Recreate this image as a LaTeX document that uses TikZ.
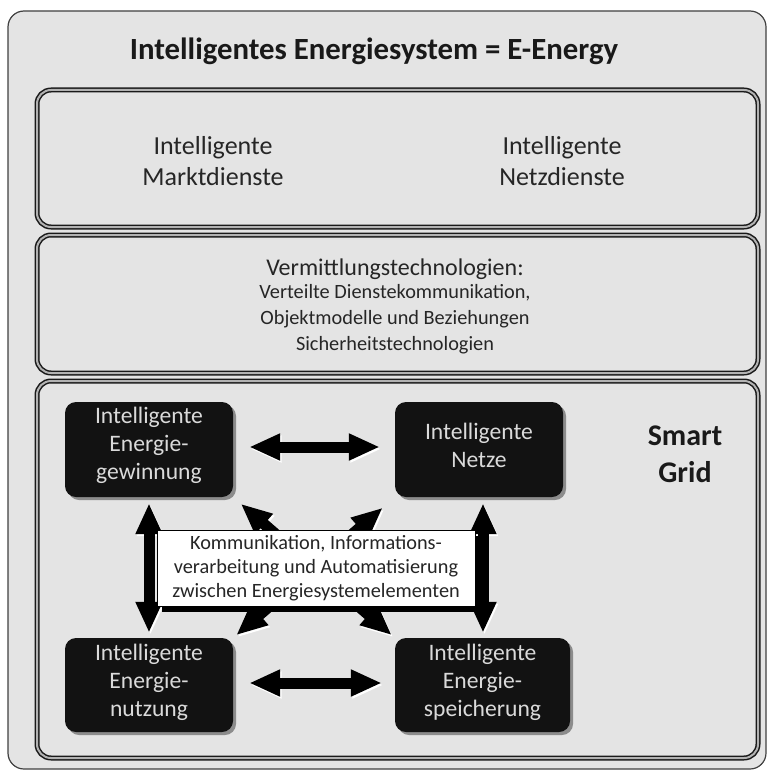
\documentclass[tikz,border=0pt]{standalone}
\usepackage{fontspec}
\setmainfont{Carlito}
\usetikzlibrary{arrows.meta,shadows}
\definecolor{panel}{HTML}{E4E4E4}
\definecolor{inktext}{HTML}{262626}
\definecolor{nodetext}{HTML}{DADADA}

\begin{document}
\begin{tikzpicture}[x=1pt,y=-1pt,
  layer/.style={draw=black!90, double=black!30, double distance=2pt, line width=1.5pt,
    rounded corners=14pt, fill=panel},
  unit/.style={fill=black!93, rounded corners=11pt, inner sep=0pt,
    drop shadow={shadow xshift=3pt, shadow yshift=-3pt, fill=black!45, opacity=1}},
  unittext/.style={text=nodetext, align=center, font=\fontsize{23.6}{28}\selectfont},
  paneltext/.style={text=inktext, align=center},
  conn/.style={line width=11pt, draw=black,
    {Triangle[length=31pt,width=25pt]}-{Triangle[length=31pt,width=25pt]},
    preaction={draw=white, transform canvas={shift={(1.5pt,-2pt)}}}},
]
\useasboundingbox (0,0) rectangle (771,773);

% outer frame
\draw[draw=black!75, line width=1.2pt, fill=panel, rounded corners=16pt] (8,11) rectangle (766,769);

\node[anchor=base, text=black!90, font=\fontsize{30.8}{36}\bfseries\selectfont] (title) at (374,60)
  {Intelligentes Energiesystem = E-Energy};

% three layers
\draw[layer] (37,90) rectangle (758,227);
\draw[layer] (37,235) rectangle (758,373);
\draw[layer] (37,381) rectangle (758,758);

% services layer
\node[paneltext, font=\fontsize{26}{31}\selectfont] (markt) at (213,161) {Intelligente\\Marktdienste};
\node[paneltext, font=\fontsize{26}{31}\selectfont] (netzd) at (562,161) {Intelligente\\Netzdienste};

% middleware layer
\node[paneltext, anchor=base, font=\fontsize{24}{28}\selectfont] (vermittlung) at (395,275) {Vermittlungstechnologien:};
\node[paneltext, font=\fontsize{20.3}{26}\selectfont] (vermdetail) at (395,319)
  {Verteilte Dienstekommunikation,\\Objektmodelle und Beziehungen\\Sicherheitstechnologien};

% smart grid layer
\node[paneltext, text=black!90, font=\fontsize{30}{37}\bfseries\selectfont] (smartgrid) at (685,454) {Smart\\Grid};

\node[unit, minimum width=168pt, minimum height=95pt] (gew) at (149,449.5) {};
\node[unit, minimum width=168pt, minimum height=95pt] (netze) at (479,449.5) {};
\node[unit, minimum width=168pt, minimum height=94pt] (nutz) at (149,685) {};
\node[unit, minimum width=175pt, minimum height=94pt] (speich) at (482.5,685) {};

\node[unittext] (gewtext) at (149,445) {Intelligente\\Energie-\\gewinnung};
\node[unittext] (netzetext) at (479,445) {Intelligente\\Netze};
\node[unittext] (nutztext) at (149,682.5) {Intelligente\\Energie-\\nutzung};
\node[unittext] (speichtext) at (482.5,682.5) {Intelligente\\Energie-\\speicherung};

\coordinate (rightcol) at (483,0);
\coordinate (topline) at (0,447);
\coordinate (botline) at (0,683);

% connections between the energy system elements
\draw[conn, shorten <=10pt, shorten >=4pt] (gew.south east) -- (speich.north west);
\draw[conn, shorten <=16pt, shorten >=4pt] (netze.south west) -- (nutz.north east);
\draw[conn, shorten <=16pt, shorten >=15pt] (gew.east |- topline) -- (netze.west |- topline);
\draw[conn, shorten <=16pt, shorten >=13pt] (nutz.east |- botline) -- (speich.west |- botline);
\draw[conn, shorten <=6pt, shorten >=5pt] (gew.south) -- (nutz.north);
\draw[conn, shorten <=6pt, shorten >=5pt] (netze.south -| rightcol) -- (speich.north -| rightcol);

% communication core
\node[fill=white, draw=black, line width=0.8pt, inner sep=0pt,
  minimum width=318pt, minimum height=76pt,
  drop shadow={shadow xshift=5pt, shadow yshift=-6pt, fill=black, opacity=1},
  paneltext, font=\fontsize{20.3}{24}\selectfont] (komm) at (316,568)
  {Kommunikation, Informations-\\verarbeitung und Automatisierung\\zwischen Energiesystemelementen};
\end{tikzpicture}
\end{document}
